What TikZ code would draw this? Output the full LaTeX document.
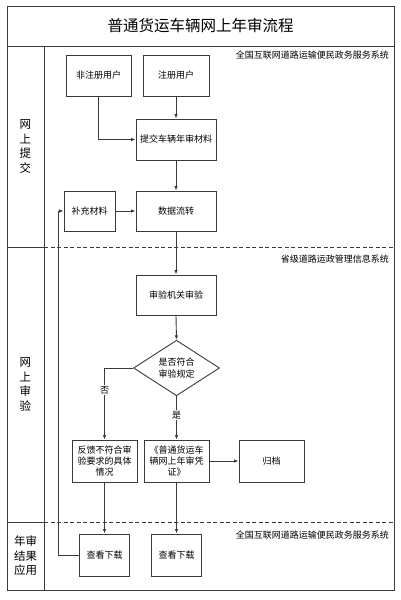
\documentclass[tikz,border=0pt]{standalone}
\usepackage{fontspec}
\setmainfont{Noto Sans CJK SC}
\usetikzlibrary{shapes.geometric,arrows.meta}
\definecolor{ln}{HTML}{3A3A3A}
\tikzset{
  box/.style={draw=ln, line width=0.9pt, rectangle, inner sep=1pt, align=center, font=\fontsize{9}{11.2}\selectfont},
  dec/.style={draw=ln, line width=0.9pt, diamond, inner sep=0pt, minimum width=86pt, minimum height=40pt, align=center, font=\fontsize{9}{11.2}\selectfont},
  arr/.style={draw=ln, line width=0.9pt, -{Latex[length=4.5pt,width=3.5pt]}},
  frame/.style={draw=ln, line width=1pt},
  sep/.style={draw=ln, line width=0.9pt, dashed, dash pattern=on 4pt off 2.5pt},
  lane/.style={align=center, font=\fontsize{11.5}{14.5}\selectfont},
  sys/.style={anchor=north east, inner sep=0pt, font=\fontsize{9}{10.5}\selectfont},
  lbl/.style={fill=white, inner sep=1pt, font=\fontsize{9}{10}\selectfont}
}
\begin{document}
\begin{tikzpicture}[x=1pt,y=-1pt]
\useasboundingbox (0,0) rectangle (401,600);
% frame
\draw[frame] (7,6) rectangle (394,590);
\draw[frame] (7,46) -- (394,46);
\draw[frame] (44,46) -- (44,590);
\draw[frame] (7,247) -- (44,247);
\draw[frame] (7,522) -- (44,522);
\draw[sep] (44,247) -- (394,247);
\draw[sep] (44,522) -- (394,522);
\node[font=\fontsize{15.5}{18}\selectfont] (title) at (200.5,26) {普通货运车辆网上年审流程};
% lane labels
\node[lane] (l1) at (25.5,146.5) {网\\上\\提\\交};
\node[lane] (l2) at (25.5,384.5) {网\\上\\审\\验};
\node[lane] (l3) at (25.5,556) {年审\\结果\\应用};
% system labels
\node[sys] (s1) at (389,50.5) {全国互联网道路运输便民政务服务系统};
\node[sys] (s2) at (389,254.5) {省级道路运政管理信息系统};
\node[sys] (s3) at (389,530.5) {全国互联网道路运输便民政务服务系统};
% nodes
\node[box, minimum width=65pt, minimum height=41pt] (n1) at (98.5,75.5) {非注册用户};
\node[box, minimum width=66pt, minimum height=41pt] (n2) at (176,75.5) {注册用户};
\node[box, minimum width=80pt, minimum height=41pt] (n3) at (176,139.5) {提交车辆年审材料};
\node[box, minimum width=51pt, minimum height=40pt] (n4) at (89.5,211) {补充材料};
\node[box, minimum width=80pt, minimum height=40pt] (n5) at (176,211) {数据流转};
\node[box, minimum width=80pt, minimum height=40pt] (n6) at (176,295) {审验机关审验};
\node[dec] (d) at (176.5,368) {是否符合\\审验规定};
\node[box, minimum width=65pt, minimum height=42pt] (n7) at (104.5,461) {反馈不符合审\\验要求的具体\\情况};
\node[box, minimum width=65pt, minimum height=42pt] (n8) at (176.5,461) {《普通货运车\\辆网上年审凭\\证》};
\node[box, minimum width=65pt, minimum height=42pt] (n9) at (271.5,461) {归档};
\node[box, minimum width=50pt, minimum height=42pt] (n10) at (104.5,555) {查看下载};
\node[box, minimum width=50pt, minimum height=42pt] (n11) at (176.5,555) {查看下载};
\coordinate (ret) at (58.5,555);
% connectors
\draw[arr] (n1.south) |- (n3.west);
\draw[arr] (n2.south) -- (n2.south |- n3.north);
\draw[arr] (n3) -- (n5);
\draw[arr] (n4) -- (n5);
\draw[arr] (n5) -- (n6);
\draw[arr] (n6.south) -- (d.north);
\draw[arr] (d.west) -| (n7.north);
\draw[arr] (d.south) -- (n8.north);
\draw[arr] (n8) -- (n9);
\draw[arr] (n7) -- (n10);
\draw[arr] (n8) -- (n11);
\draw[arr] (n10.west) -- (ret) |- (n4.west);
\node[lbl] (no) at (104.5,390) {否};
\node[lbl] (yes) at (176.5,415) {是};
\end{tikzpicture}
\end{document}
